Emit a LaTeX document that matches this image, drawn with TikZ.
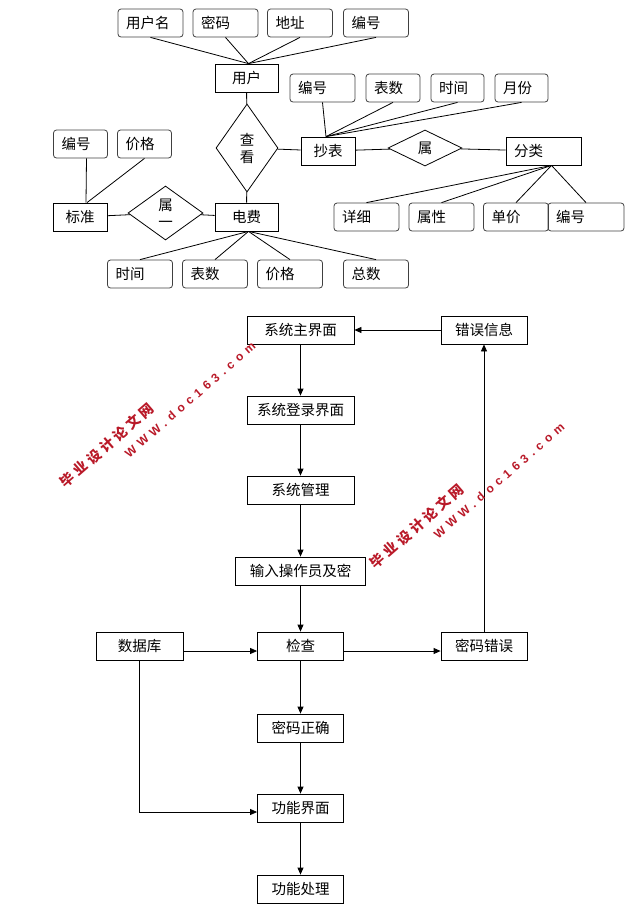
\documentclass[tikz,border=0pt]{standalone}
\usepackage{fontspec}
\setmainfont{Noto Sans CJK SC}
\newfontfamily\wmlat[LetterSpace=40]{Liberation Sans}
\newfontfamily\wmcjk[LetterSpace=25]{Noto Sans CJK SC}
\usetikzlibrary{shapes.geometric,arrows.meta}
\definecolor{wmred}{RGB}{185,25,40}

\begin{document}
\begin{tikzpicture}[x=1pt,y=-1pt,line width=0.8pt,
    every node/.style={font=\fontsize{14.5}{17}\selectfont},
    ent/.style={draw,minimum width=63pt,minimum height=28pt,inner sep=0pt},
    attr/.style={draw=black!75,rounded corners=3pt,minimum height=28pt,
      inner xsep=8pt,inner ysep=0pt,text width=#1,align=left},
    attr/.default=49pt,
    rel/.style={draw,diamond,inner sep=0pt,align=center},
    fbox/.style={draw,minimum width=#1,minimum height=28pt,inner sep=0pt},
    wm/.style={text=wmred,inner sep=0pt}]

    \useasboundingbox (0,0) rectangle (632,914);
    \tikzstyle{flow}=[-{Triangle[length=7pt,width=6pt]}]

    % the E-R part
    \node[attr] (yhm) at (150.5,23) {用户名};
    \node[attr] (mm) at (225.5,23) {密码};
    \node[attr] (dz) at (300,23) {地址};
    \node[attr] (yhbh) at (376,23) {编号};
    \node[ent] (yh) at (246.5,78) {用户};
    \node[rel,minimum width=62pt,minimum height=88pt] (ck) at (247,148) {查\\看};
    \node[ent] (df) at (246.5,217) {电费};
    \node[ent,minimum width=54pt] (bz) at (80,217) {标准};
    \node[rel,minimum width=75pt,minimum height=54pt] (sy1) at (165.5,213) {属\\一};
    \node[attr=38pt] (bzbh) at (80.5,144) {编号};
    \node[attr=38pt] (bzjg) at (144.5,144) {价格};
    \node[attr] (dfsj) at (140,274) {时间};
    \node[attr] (dfbs) at (215,274) {表数};
    \node[attr] (dfjg) at (290,274) {价格};
    \node[attr] (dfzs) at (376,274) {总数};
    \node[ent,minimum width=54pt] (cb) at (328,151) {抄表};
    \node[attr] (cbbh) at (322.5,88) {编号};
    \node[attr=38pt] (cbbs) at (393,88) {表数};
    \node[attr=37pt] (cbsj) at (457.5,88) {时间};
    \node[attr=37pt] (cbyf) at (521.5,88) {月份};
    \node[rel,minimum width=74pt,minimum height=36pt] (sy2) at (425,148) {属};
    \node[ent,minimum width=75pt,text width=59pt,align=left] (fl) at (543.5,151) {分类};
    \node[attr] (flxx) at (366.5,217) {详细};
    \node[attr] (flsx) at (441.5,217) {属性};
    \node[attr] (fldj) at (516,217) {单价};
    \node[attr=60pt] (flbh) at (586,217) {编号};

    \foreach \a in {yhm,mm,dz,yhbh} \draw (\a.south) -- ([xshift=2pt]yh.north);
    \foreach \a in {cbbh,cbbs,cbsj,cbyf} \draw (\a.south) -- ([xshift=-2pt]cb.north);
    \foreach \a in {flxx,flsx,fldj,flbh} \draw (\a.north) -- ([xshift=8pt]fl.south);
    \foreach \a in {dfsj,dfbs,dfjg,dfzs} \draw (\a.north) -- ([xshift=2pt]df.south);
    \draw ([xshift=6pt]bzbh.south) -- ([xshift=6pt]bz.north);
    \draw (bzjg.south) -- ([xshift=7pt]bz.north);
    \draw (yh) -- (ck) -- (df);
    \draw (ck) -- (cb) -- (sy2) -- (fl);
    \draw (bz) -- (sy1) -- (df);

    % the flow part
    \node[fbox=107pt] (zjm) at (300.5,330) {系统主界面};
    \node[fbox=86pt] (cwxx) at (484,330) {错误信息};
    \node[fbox=107pt] (dljm) at (300.5,410) {系统登录界面};
    \node[fbox=107pt] (xtgl) at (300.5,490) {系统管理};
    \node[fbox=130pt] (srczy) at (300.5,571) {输入操作员及密};
    \node[fbox=87pt] (sjk) at (139.5,646) {数据库};
    \node[fbox=86pt] (jc) at (300.5,646) {检查};
    \node[fbox=86pt] (mmcw) at (484,646) {密码错误};
    \node[fbox=86pt] (mmzq) at (300.5,728) {密码正确};
    \node[fbox=86pt] (gnjm) at (300.5,808) {功能界面};
    \node[fbox=86pt] (gncl) at (300.5,889) {功能处理};

    \draw[flow] (cwxx) -- (zjm);
    \draw[flow] (zjm) -- (dljm);
    \draw[flow] (dljm) -- (xtgl);
    \draw[flow] (xtgl) -- (srczy);
    \draw[flow] (srczy) -- (jc);
    \draw[flow] ([yshift=-5pt]sjk.east) -- ([yshift=-5pt]jc.west);
    \draw[flow] ([yshift=-5pt]jc.east) -- ([yshift=-5pt]mmcw.west);
    \draw[flow] (mmcw) -- (cwxx);
    \draw[flow] (jc) -- (mmzq);
    \draw[flow] (mmzq) -- (gnjm);
    \draw[flow] (gnjm) -- (gncl);
    \draw[flow] (sjk.south) |- ([yshift=-4pt]gnjm.west);

    % the marks
    \node[wm,rotate=41,font=\fontsize{14}{16}\selectfont] (wm1a) at (107,445) {\wmcjk\bfseries 毕业设计论文网};
    \node[wm,rotate=41,font=\fontsize{12}{14}\selectfont] (wm1b) at (190,400) {\wmlat\bfseries WWW.doc163.com};
    \node[wm,rotate=41,font=\fontsize{14}{16}\selectfont] (wm2a) at (417,526) {\wmcjk\bfseries 毕业设计论文网};
    \node[wm,rotate=41,font=\fontsize{12}{14}\selectfont] (wm2b) at (499,481) {\wmlat\bfseries WWW.doc163.com};

\end{tikzpicture}
\end{document}
